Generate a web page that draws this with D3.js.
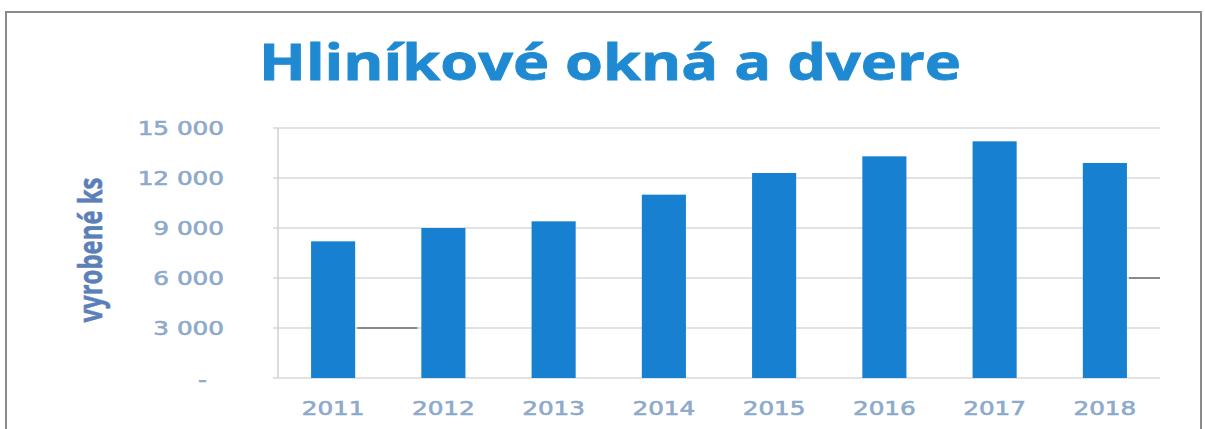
<!DOCTYPE html>
<html><head><meta charset="utf-8">
<script src="https://cdn.jsdelivr.net/npm/d3@7/dist/d3.min.js"></script>
<style>html,body{margin:0;padding:0;background:#fff;}svg{display:block;}</style>
</head><body>
<svg id="c" width="1205" height="429"></svg>
<script>
const years = ["2011","2012","2013","2014","2015","2016","2017","2018"];
const values = [8200, 9000, 9400, 11000, 12300, 13300, 14200, 12900];
const yTicks = [0, 3000, 6000, 9000, 12000, 15000];
const title = "Hliníkové okná a dvere";
const yTitle = "vyrobené ks";

const svg = d3.select("#c");
const W = 1205, H = 429;
const m = {left: 278, right: 45, top: 128, bottom: 51};

// frame
svg.append("rect").attr("x", 6).attr("y", 12).attr("width", 1195).attr("height", 440)
  .attr("fill", "none").attr("stroke", "#8a8a8a").attr("stroke-width", 2);

const x = d3.scaleBand().domain(years).range([m.left, W - m.right]).paddingInner(0.6).paddingOuter(0.3);
const y = d3.scaleLinear().domain([0, 15000]).range([H - m.bottom, m.top]);

// gridlines
const fmt = v => v === 0 ? "-" : d3.format(",")(v).replace(/,/g, " ");
svg.append("g").selectAll("line").data(yTicks).join("line")
  .attr("x1", m.left - 5).attr("x2", W - m.right)
  .attr("y1", d => y(d)).attr("y2", d => y(d))
  .attr("stroke", "#d9d9d9").attr("stroke-width", 1.5);
svg.append("line").attr("x1", m.left).attr("x2", m.left).attr("y1", y(15000)).attr("y2", y(0))
  .attr("stroke", "#cfcfcf").attr("stroke-width", 1.5);

// y axis labels
const yAxis = d3.axisLeft(y).tickValues(yTicks).tickFormat(fmt).tickSize(0).tickPadding(0);
const ga = svg.append("g").attr("transform", `translate(224,0)`).call(yAxis);
ga.select(".domain").remove();
ga.selectAll("text").attr("fill", "#8eaacb").attr("stroke", "#8eaacb").attr("stroke-width", 0.6)
  .attr("font-family", "DejaVu Sans")
  .attr("font-size", 19).attr("x", 0)
  .attr("transform", d => d === 0 ? "translate(-17,2) scale(1.3,1)" : "scale(1.3,1)");

// bars
svg.append("g").selectAll("rect").data(values).join("rect")
  .attr("x", (d, i) => x(years[i])).attr("width", x.bandwidth())
  .attr("y", d => y(d)).attr("height", d => y(0) - y(d))
  .attr("fill", "#1880d0");

// x labels
const xAxis = d3.axisBottom(x).tickSize(0).tickPadding(0);
const gx = svg.append("g").attr("transform", `translate(0,${y(0) + 37})`).call(xAxis);
gx.select(".domain").remove();
gx.selectAll("text").attr("fill", "#8eaacb").attr("stroke", "#8eaacb").attr("stroke-width", 0.6)
  .attr("font-family", "DejaVu Sans")
  .attr("font-size", 19).attr("dy", 0).attr("y", 0);
gx.selectAll(".tick").each(function(d){
  d3.select(this).attr("transform", `translate(${x(d) + x.bandwidth()/2},0) scale(1.3,1)`);
});

// scan artifacts (thin dark strokes)
svg.append("line").attr("x1", x("2011") + x.bandwidth() + 2).attr("x2", x("2012") - 4)
  .attr("y1", y(3000)).attr("y2", y(3000)).attr("stroke", "#333").attr("stroke-width", 1);
svg.append("line").attr("x1", x("2018") + x.bandwidth() + 2).attr("x2", W - m.right)
  .attr("y1", y(6000)).attr("y2", y(6000)).attr("stroke", "#333").attr("stroke-width", 1);

// title
svg.append("text").attr("x", 610).attr("y", 80).attr("text-anchor", "middle")
  .attr("font-family", "Open Sans").attr("font-weight", 700).attr("font-size", 50)
  .attr("fill", "#1f8ad2").attr("stroke", "#1f8ad2").attr("stroke-width", 0.8)
  .attr("textLength", 702).attr("lengthAdjust", "spacingAndGlyphs").text(title);

// y title
svg.append("text").attr("transform", "translate(102,250) rotate(-90)").attr("text-anchor", "middle")
  .attr("font-family", "Open Sans").attr("font-weight", 700).attr("font-size", 33)
  .attr("fill", "#5b7fb8").attr("stroke", "#5b7fb8").attr("stroke-width", 0.6)
  .attr("textLength", 145).attr("lengthAdjust", "spacingAndGlyphs").text(yTitle);
</script>
</body></html>
